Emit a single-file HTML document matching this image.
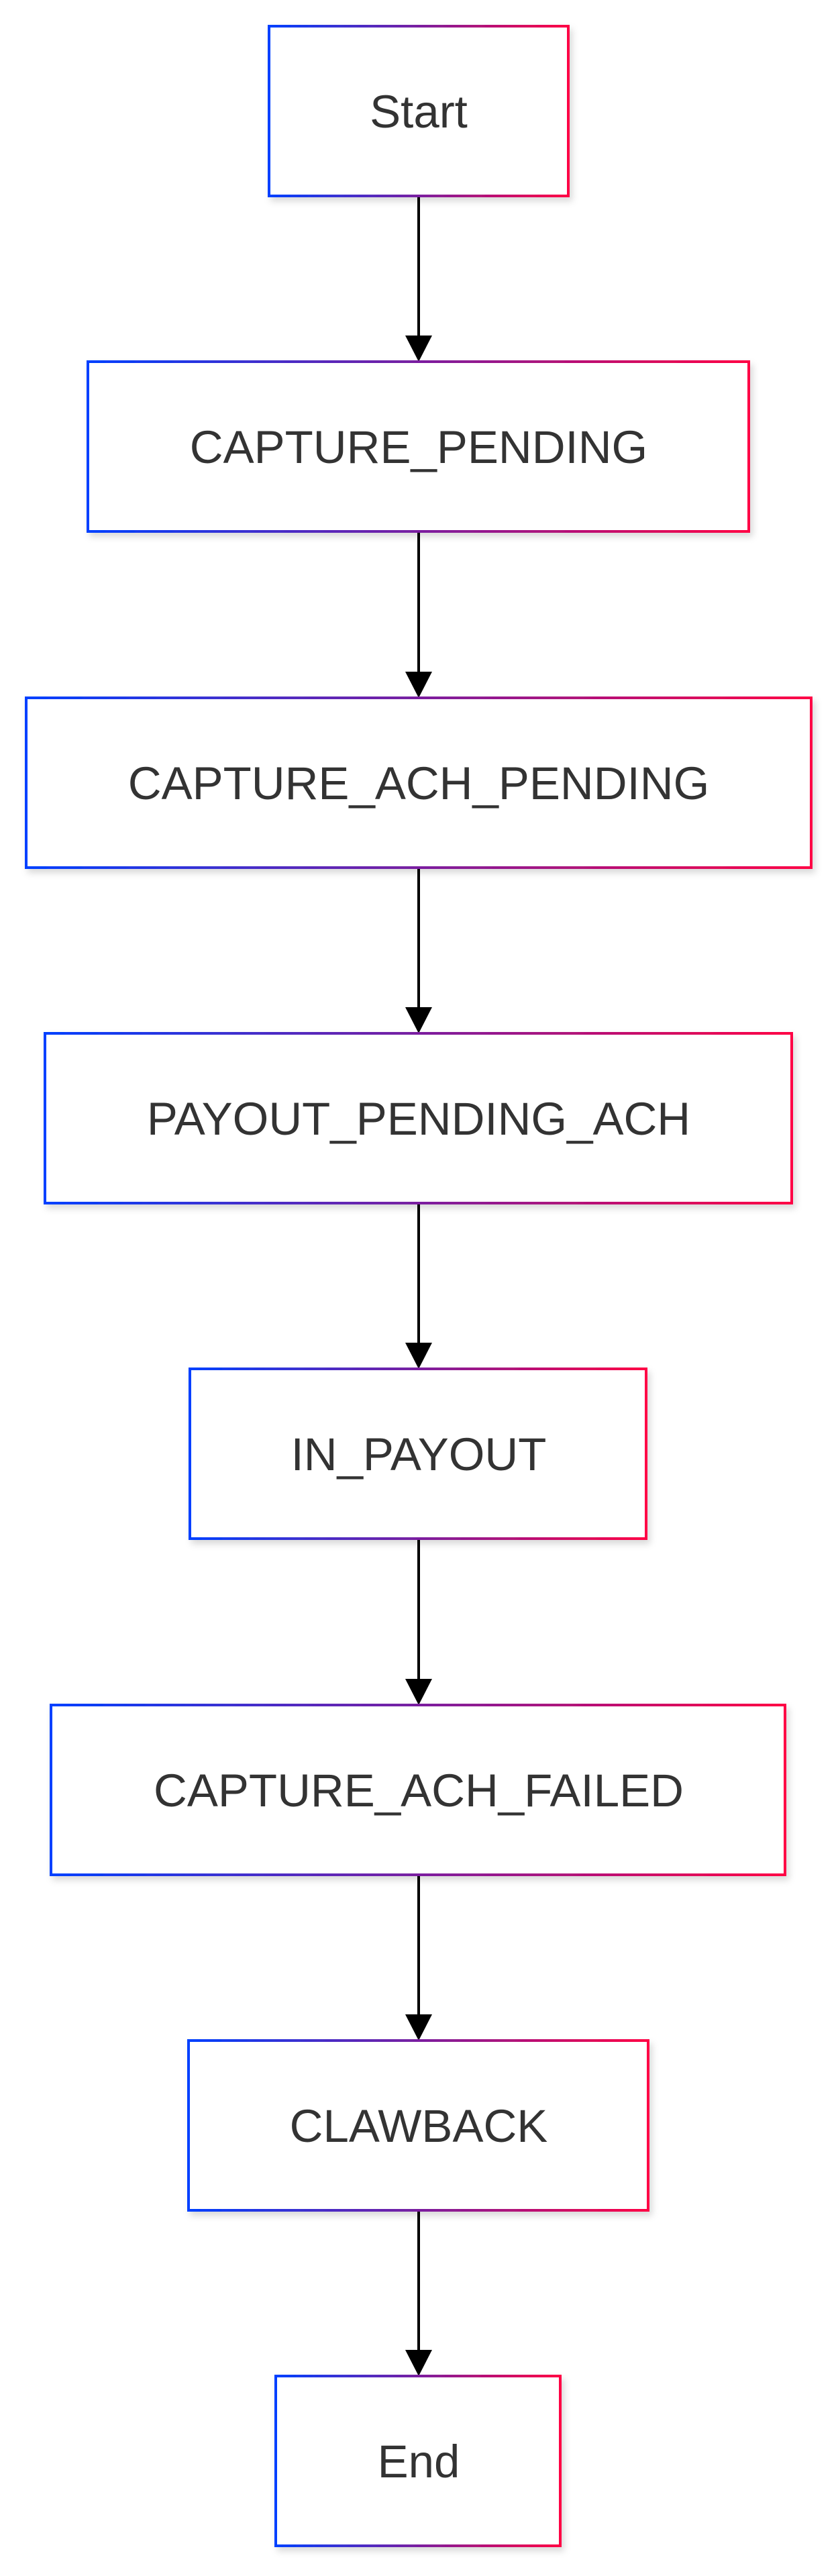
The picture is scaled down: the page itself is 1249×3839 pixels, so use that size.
<!DOCTYPE html>
<html><head><meta charset="utf-8"><style>
html,body{margin:0;padding:0;background:#fff;}
svg{display:block;}
text{font-family:"Liberation Sans",Arial,sans-serif;font-size:69px;fill:#333;}
</style></head><body>
<svg width="1249" height="3839" viewBox="0 0 1249 3839" xmlns="http://www.w3.org/2000/svg">
<defs>
<linearGradient id="g" x1="0" y1="0" x2="1" y2="0">
<stop offset="0" stop-color="#0040ff"/><stop offset="0.5" stop-color="#7a1fa0"/><stop offset="1" stop-color="#ff0044"/>
</linearGradient>
<filter id="sh" x="-10%" y="-10%" width="120%" height="130%"><feDropShadow dx="4" dy="6" stdDeviation="5" flood-color="#000" flood-opacity="0.15"/></filter>
</defs>
<g stroke="#000" stroke-width="4">
<line x1="624" y1="292" x2="624" y2="505"/>
<line x1="624" y1="792" x2="624" y2="1005"/>
<line x1="624" y1="1293" x2="624" y2="1505"/>
<line x1="624" y1="1793" x2="624" y2="2005"/>
<line x1="624" y1="2293" x2="624" y2="2506"/>
<line x1="624" y1="2794" x2="624" y2="3006"/>
<line x1="624" y1="3294" x2="624" y2="3506"/>
</g>
<g fill="#000">
<polygon points="604,500 644,500 624,539"/>
<polygon points="604,1001 644,1001 624,1040"/>
<polygon points="604,1501 644,1501 624,1540"/>
<polygon points="604,2001 644,2001 624,2040"/>
<polygon points="604,2502 644,2502 624,2541"/>
<polygon points="604,3002 644,3002 624,3041"/>
<polygon points="604,3502 644,3502 624,3541"/>
</g>
<g fill="#fff" stroke="url(#g)" stroke-width="4" filter="url(#sh)">
<rect x="401" y="39" width="446" height="253"/>
<rect x="131" y="539" width="985" height="253"/>
<rect x="39" y="1040" width="1170" height="253"/>
<rect x="67" y="1540" width="1113" height="253"/>
<rect x="283" y="2040" width="680" height="253"/>
<rect x="76" y="2541" width="1094" height="253"/>
<rect x="281" y="3041" width="685" height="253"/>
<rect x="411" y="3541" width="424" height="253"/>
</g>
<g text-anchor="middle">
<text x="624" y="190">Start</text>
<text x="624" y="690">CAPTURE_PENDING</text>
<text x="624" y="1191">CAPTURE_ACH_PENDING</text>
<text x="624" y="1691">PAYOUT_PENDING_ACH</text>
<text x="624" y="2191">IN_PAYOUT</text>
<text x="624" y="2692">CAPTURE_ACH_FAILED</text>
<text x="624" y="3192">CLAWBACK</text>
<text x="624" y="3692">End</text>
</g>
</svg>
</body></html>
